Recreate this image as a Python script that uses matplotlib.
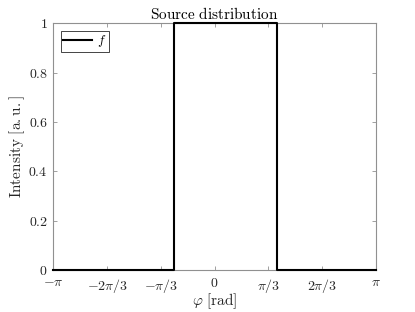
import matplotlib
matplotlib.use("Agg")
import matplotlib.pyplot as plt
import numpy as np

plt.rcParams['font.family'] = 'serif'
plt.rcParams['font.serif'] = ['cmr10']
plt.rcParams['mathtext.fontset'] = 'cm'
plt.rcParams['axes.formatter.use_mathtext'] = True

# source distribution: step edges in phi (rad) and intensity levels
phi = [-np.pi, -0.78, -0.78, 1.22, 1.22, np.pi]
intensity = [0, 0, 1, 1, 0, 0]

xtick_vals = [-np.pi, -2 * np.pi / 3, -np.pi / 3, 0, np.pi / 3, 2 * np.pi / 3, np.pi]
xtick_labels = [r'$-\pi$', r'$-2\pi/3$', r'$-\pi/3$', r'$0$', r'$\pi/3$', r'$2\pi/3$', r'$\pi$']
ytick_vals = [0, 0.2, 0.4, 0.6, 0.8, 1]
ytick_labels = [r'$0$', r'$0.2$', r'$0.4$', r'$0.6$', r'$0.8$', r'$1$']

fig = plt.figure(figsize=(4.15, 3.12), dpi=100)
ax = fig.add_axes([0.1285, 0.1337, 0.7768, 0.7916])

ax.plot(phi, intensity, color='black', lw=1.5, label=r'$f$',
        clip_on=False, zorder=5)

ax.set_xlim(-np.pi, np.pi)
ax.set_ylim(0, 1)
ax.set_xticks(xtick_vals)
ax.set_xticklabels(xtick_labels, fontsize=10)
ax.set_yticks(ytick_vals)
ax.set_yticklabels(ytick_labels, fontsize=10)

grey = '#262626'
for s in ax.spines.values():
    s.set_color('#909090')
    s.set_linewidth(0.8)
ax.tick_params(direction='in', top=True, right=True, length=3, width=0.6,
               color='#909090', labelcolor=grey)
ax.tick_params(axis='x', pad=5)
ax.tick_params(axis='y', pad=4)

ax.set_xlabel(r'$\varphi\ \mathrm{[rad]}$', fontsize=11, color=grey, labelpad=-3)
ax.set_ylabel(r'$\mathrm{Intensity\ [a.u.]}$', fontsize=11, color=grey, labelpad=1)
ax.set_title(r'$\mathrm{Source\ distribution}$', fontsize=11, color='black', pad=3)

leg = ax.legend(loc='upper left', fontsize=9.5, fancybox=False, framealpha=1,
                edgecolor='#262626', handlelength=2.2, borderpad=0.2,
                borderaxespad=0.55, handletextpad=0.35)
leg.get_frame().set_linewidth(0.6)

fig.savefig('out.png', dpi=100)
